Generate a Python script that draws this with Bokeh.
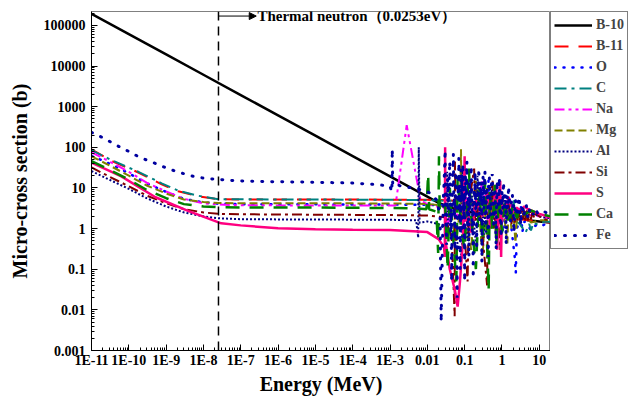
from bokeh.plotting import figure
from bokeh.layouts import row
from bokeh.models import FixedTicker, Legend, LegendItem, Span, Arrow, NormalHead, Label, Range1d
from bokeh.embed import file_html
from bokeh.resources import INLINE

# ---------------- data (energy in MeV, cross section in barn) ----------------
B10_PTS = [(1e-11, 193000), (1e-10, 61000), (1e-9, 19300), (1e-8, 6100), (1e-7, 1930), (1e-6, 610),
           (1e-5, 193), (1e-4, 61), (1e-3, 19.3), (0.01, 6.1), (0.02, 4.3), (0.05, 3.2), (0.1, 2.7),
           (0.2, 2.4), (0.3, 2.5), (0.5, 2.3), (1, 2.6), (2, 2.3), (3, 1.9), (5, 1.6), (10, 1.5), (20, 1.4)]

B11_PTS = [(1e-11, 89), (3.5e-11, 46), (1.8e-10, 24), (7.6e-10, 12.3), (2.1e-9, 8.3), (7.4e-9, 6.2),
           (2.5e-8, 5.3), (1e-7, 5.2), (1e-5, 5.2), (1e-3, 5.15), (0.01, 5.1), (0.03, 5.0), (0.1, 4.7),
           (0.2, 4.3), (0.35, 5.0), (0.43, 7.5), (0.5, 3.8), (1, 2.6), (2, 1.9), (3, 1.7), (5, 1.6),
           (10, 1.5), (20, 1.4)]

O_PTS = [(1e-11, 62), (3e-11, 40), (1e-10, 23), (3e-10, 13), (1e-9, 8), (3e-9, 5.4), (1e-8, 4.4),
         (2.5e-8, 4.1), (1e-7, 4.0), (1e-5, 3.95), (1e-3, 3.9), (0.01, 3.85), (0.1, 3.7), (0.3, 3.2),
         (0.4, 5), (0.434, 16), (0.45, 2), (0.6, 2.8), (0.9, 1.8), (1.0, 8), (1.05, 0.8), (1.3, 1.6),
         (1.65, 6), (1.8, 1.0), (2.2, 0.2), (2.35, 0.08), (2.5, 1.0), (3.0, 1.6), (3.2, 4.0), (3.5, 0.8),
         (4, 1.5), (5, 1.2), (6, 0.9), (8, 1.2), (10, 1.1), (15, 1.3), (20, 1.4)]

C_PTS = [(1e-11, 85), (3.5e-11, 48), (1.8e-10, 25), (7.6e-10, 13), (2.1e-9, 8.6), (7.4e-9, 6.4),
         (2.5e-8, 5.3), (1e-7, 5.25), (1e-5, 5.2), (1e-3, 5.1), (0.01, 5.0), (0.05, 4.8), (0.1, 4.6),
         (0.3, 3.9), (0.5, 3.5), (1, 2.6), (1.5, 2.1), (2, 1.7), (2.08, 5.0), (2.2, 1.6), (3, 1.3),
         (4.3, 0.8), (4.8, 1.0), (5.4, 1.3), (6, 0.9), (7, 1.4), (8, 1.3), (10, 1.3), (14, 1.5), (20, 1.45)]

NA_PTS = [(1e-11, 75), (3e-11, 45), (1e-10, 25), (3e-10, 13.5), (1e-9, 8.2), (3e-9, 5.4), (1e-8, 4.2),
          (2.5e-8, 3.9), (1e-7, 3.75), (1e-5, 3.7), (1e-4, 3.7), (1.4e-3, 3.7), (2.8e-3, 350),
          (6.6e-3, 4.9), (0.01, 4.0), (0.02, 3.4), (0.03, 3.2), (0.035, 0.8), (0.04, 3.0), (0.053, 3.5),
          (0.1, 0.6), (0.12, 8), (0.2, 2.5), (0.3, 15), (0.4, 1.5), (0.5, 6), (0.7, 0.7), (0.9, 7),
          (1.2, 1.5), (1.6, 4), (2, 2), (3, 3), (5, 2.2), (10, 2), (20, 1.8)]

MG_PTS = [(1e-11, 60), (3e-11, 36), (1e-10, 20), (3e-10, 11.5), (1e-9, 7.3), (3e-9, 5.2), (1e-8, 4.5),
          (2.5e-8, 4.25), (1e-7, 4.2), (1e-5, 4.2), (1e-3, 4.15), (0.01, 4.05), (0.02, 3.8), (0.04, 3.0),
          (0.06, 0.5), (0.075, 3), (0.08, 90), (0.082, 2), (0.1, 4), (0.15, 0.3), (0.2, 15), (0.25, 2),
          (0.3, 0.2), (0.4, 10), (0.5, 1.5), (0.6, 8), (0.8, 0.8), (1.0, 6), (1.4, 0.43), (1.5, 4),
          (1.8, 1), (2, 3), (2.3, 0.45), (2.6, 3), (3, 1.5), (4, 2.2), (6, 1.4), (10, 1.6), (20, 1.6)]

AL_PTS = [(1e-11, 26), (3e-11, 16), (1e-10, 9.5), (3e-10, 5.6), (1e-9, 3.5), (3e-9, 2.5), (1e-8, 2.0),
          (2.5e-8, 1.8), (1e-7, 1.7), (1e-5, 1.67), (1e-3, 1.65), (5e-3, 1.6), (5.7e-3, 0.6),
          (5.9e-3, 100), (6.2e-3, 1.4), (0.01, 1.5), (0.02, 1.3), (0.03, 1.0), (0.034, 25), (0.036, 0.8),
          (0.05, 0.9), (0.085, 0.2), (0.088, 30), (0.092, 2), (0.12, 0.5), (0.15, 12), (0.17, 2),
          (0.21, 0.3), (0.22, 20), (0.25, 3), (0.3, 8), (0.32, 0.6), (0.4, 10), (0.45, 2), (0.55, 12),
          (0.6, 1), (0.7, 6), (0.8, 2), (0.9, 7), (1.0, 1.5), (1.2, 5), (1.5, 2), (2, 4), (3, 2),
          (5, 2.8), (8, 2.2), (12, 1.9), (20, 1.8)]

SI_PTS = [(1e-11, 32), (3e-11, 19), (1e-10, 11), (3e-10, 6.5), (1e-9, 4.2), (3e-9, 3.0), (1e-8, 2.5),
          (2.5e-8, 2.3), (1e-7, 2.25), (1e-5, 2.2), (1e-3, 2.15), (0.01, 2.1), (0.03, 1.9), (0.045, 0.6),
          (0.054, 0.007), (0.055, 45), (0.057, 3), (0.07, 2.8), (0.09, 3.5), (0.12, 0.05), (0.13, 4),
          (0.18, 30), (0.19, 1.5), (0.25, 4), (0.4, 0.04), (0.42, 8), (0.5, 3), (0.56, 15), (0.6, 1),
          (0.8, 5), (0.9, 0.3), (1.0, 6), (1.2, 2), (1.5, 4), (1.8, 1.3), (2.0, 2.8), (2.2, 1.4),
          (2.4, 3.0), (2.6, 1.5), (2.8, 3.1), (3.0, 1.6), (3.3, 3.2), (3.6, 1.5), (3.9, 3.1), (4.2, 1.6),
          (4.6, 3.0), (5.0, 1.6), (5.5, 2.9), (6, 1.7), (6.6, 2.7), (7.3, 1.8), (8, 2.5), (10, 2.0),
          (14, 1.7), (20, 1.6)]

S_PTS = [(1e-11, 42), (6.3e-11, 19.3), (5.2e-10, 5.9), (4e-9, 2.7), (3e-8, 1.35), (1e-7, 1.2),
         (1e-6, 1.02), (1e-5, 0.97), (1e-4, 0.94), (1e-3, 0.92), (0.01, 0.82), (0.02, 0.55),
         (0.028, 0.35), (0.0295, 0.2), (0.030, 100), (0.0305, 0.5), (0.04, 0.1), (0.055, 0.03),
         (0.065, 0.012), (0.075, 0.05), (0.09, 0.5), (0.1, 60), (0.105, 1.5), (0.12, 3), (0.15, 0.8),
         (0.2, 5), (0.3, 2), (0.4, 8), (0.5, 1), (0.6, 4), (0.7, 12), (0.75, 0.3), (0.8, 3), (0.9, 15),
         (0.95, 0.2), (1.0, 4), (1.2, 2), (1.5, 6), (2, 2.5), (2.5, 3.3), (3, 2.8), (4, 3.5), (5, 3.0),
         (6, 2.8), (8, 2.5), (10, 2.3), (14, 2.1), (20, 1.9)]

CA_PTS = [(1e-11, 46), (3e-11, 28), (1e-10, 16), (3e-10, 9), (1e-9, 5.6), (3e-9, 4.0), (1e-8, 3.5),
          (2.5e-8, 3.35), (1e-7, 3.3), (1e-5, 3.3), (1e-3, 3.2), (5e-3, 3.15), (9.5e-3, 3.0),
          (0.0105, 22), (0.0112, 3.0), (0.0175, 2.6), (0.0195, 0.25), (0.0205, 60), (0.0215, 2.5),
          (0.03, 4), (0.035, 0.1), (0.04, 10), (0.045, 2), (0.06, 0.05), (0.065, 20), (0.08, 1),
          (0.1, 0.3), (0.13, 30), (0.15, 2), (0.2, 0.1), (0.25, 10), (0.3, 0.5), (0.35, 15), (0.44, 0.03),
          (0.47, 8), (0.55, 1), (0.65, 12), (0.7, 0.4), (0.85, 6), (1.0, 0.8), (1.2, 5), (1.5, 1.2),
          (2, 4), (2.5, 1.8), (3, 3.2), (4, 2.2), (6, 2.8), (10, 2.3), (20, 2.0)]

FE_PTS = [(1e-11, 234), (2.2e-11, 166), (4.7e-11, 112), (1.1e-10, 76), (2e-10, 56), (4.9e-10, 41),
          (1.1e-9, 30), (2.3e-9, 24), (4.6e-9, 20), (1e-8, 17.4), (2.5e-8, 16.2), (1e-7, 14.8),
          (1e-6, 14.2), (1e-5, 13.8), (1e-4, 13.2), (5e-4, 12.0), (1e-3, 11.0), (1.12e-3, 8),
          (1.15e-3, 90), (1.18e-3, 12), (1.3e-3, 13), (2e-3, 11), (4e-3, 10), (7e-3, 9), (0.012, 7.5),
          (0.018, 5), (0.022, 2), (0.0235, 0.005), (0.026, 1.2), (0.027, 6), (0.028, 12), (0.029, 30),
          (0.030, 85), (0.0305, 8), (0.031, 2.5), (0.032, 0.6), (0.033, 0.4), (0.034, 5), (0.035, 18),
          (0.036, 7), (0.037, 3), (0.038, 12), (0.040, 45), (0.041, 6), (0.042, 0.8), (0.043, 3),
          (0.045, 0.05), (0.046, 2), (0.047, 8), (0.048, 20), (0.050, 70), (0.051, 9), (0.052, 2),
          (0.053, 6), (0.055, 0.3), (0.056, 4), (0.058, 25), (0.059, 10), (0.060, 4), (0.061, 1),
          (0.063, 0.02), (0.064, 3), (0.066, 12), (0.068, 5), (0.070, 55), (0.071, 15), (0.073, 1.5),
          (0.074, 6), (0.076, 0.1), (0.078, 4), (0.080, 30), (0.082, 9), (0.083, 5), (0.085, 15),
          (0.087, 0.6), (0.088, 4), (0.090, 40), (0.092, 10), (0.095, 2), (0.097, 7), (0.100, 0.05),
          (0.102, 3), (0.105, 20), (0.107, 8), (0.11, 6), (0.112, 18), (0.115, 45), (0.117, 5), (0.12, 1),
          (0.125, 6), (0.13, 0.2), (0.132, 4), (0.135, 15), (0.137, 7), (0.14, 3), (0.145, 12), (0.15, 35),
          (0.155, 5), (0.16, 0.8), (0.165, 4), (0.17, 0.06), (0.175, 3), (0.18, 10), (0.185, 4),
          (0.19, 25), (0.195, 6), (0.2, 2), (0.205, 9), (0.21, 0.3), (0.215, 5), (0.22, 12), (0.23, 4),
          (0.24, 30), (0.245, 7), (0.25, 1.5), (0.26, 10), (0.27, 5), (0.28, 14), (0.29, 0.15), (0.3, 6),
          (0.31, 20), (0.32, 8), (0.33, 3), (0.34, 12), (0.35, 25), (0.36, 5), (0.37, 0.8), (0.385, 9),
          (0.4, 8), (0.415, 3), (0.43, 0.2), (0.445, 6), (0.46, 18), (0.48, 7), (0.5, 2), (0.52, 11),
          (0.55, 22), (0.57, 6), (0.6, 1), (0.62, 7), (0.65, 10), (0.67, 3), (0.7, 0.3), (0.72, 5),
          (0.75, 15), (0.77, 6), (0.8, 3), (0.83, 10), (0.85, 18), (0.87, 4), (0.9, 1.5), (0.92, 6),
          (0.95, 0.6), (0.97, 4), (1.0, 8), (1.05, 3), (1.1, 14), (1.15, 5), (1.2, 2), (1.25, 7),
          (1.3, 0.4), (1.35, 3), (1.4, 6), (1.45, 3), (1.5, 11), (1.6, 4), (1.7, 1.5), (1.8, 5), (1.9, 7),
          (2.0, 2.5), (2.1, 0.8), (2.2, 3), (2.3, 5), (2.45, 2.2), (2.6, 2), (2.75, 4.5), (2.9, 6),
          (3.05, 2.5), (3.2, 1.2), (3.4, 3), (3.6, 4), (3.8, 2), (4.0, 2.5), (4.25, 3.6), (4.5, 3.8),
          (4.75, 2.2), (5, 1.8), (5.5, 3.0), (6, 3.2), (6.5, 2.4), (7, 2.2), (7.5, 2.9), (8, 3.0),
          (9, 2.4), (10, 2.6), (12, 2.8), (15, 2.5), (20, 2.4)]

SERIES_NAMES = ["B-10", "B-11", "O", "C", "Na", "Mg", "Al", "Si", "S", "Ca", "Fe"]
SERIES_PTS = [B10_PTS, B11_PTS, O_PTS, C_PTS, NA_PTS, MG_PTS, AL_PTS, SI_PTS, S_PTS, CA_PTS, FE_PTS]

X_TICKS = [1e-11, 1e-10, 1e-9, 1e-8, 1e-7, 1e-6, 1e-5, 1e-4, 1e-3, 0.01, 0.1, 1, 10]
X_LABELS = ["1E-11", "1E-10", "1E-9", "1E-8", "1E-7", "1E-6", "1E-5", "1E-4", "1E-3", "0.01", "0.1", "1", "10"]
Y_TICKS = [0.001, 0.01, 0.1, 1, 10, 100, 1000, 10000, 100000]
Y_LABELS = ["0.001", "0.01", "0.1", "1", "10", "100", "1000", "10000", "100000"]

THERMAL_E = 2.53e-8
ANNOT_TEXT = "Thermal neutron\uff080.0253eV\uff09"

# ---------------- styles ----------------
STYLES = {
    "B-10": dict(color="#000000", dash="solid", width=2.5, cap="butt"),
    "B-11": dict(color="#FF0000", dash="14 10", width=2, cap="butt"),
    "O": dict(color="#0000FF", dash="1 8", width=2.5, cap="round"),
    "C": dict(color="#008080", dash="12 5 3 5", width=2, cap="butt"),
    "Na": dict(color="#FF00FF", dash="10 4 3 4 3 4", width=2, cap="butt"),
    "Mg": dict(color="#808000", dash="8 4", width=2, cap="butt"),
    "Al": dict(color="#000080", dash="2 2", width=2, cap="butt"),
    "Si": dict(color="#800000", dash="10 4 3 4", width=2, cap="butt"),
    "S": dict(color="#FF0080", dash="solid", width=2.5, cap="butt"),
    "Ca": dict(color="#008000", dash="14 10", width=2.5, cap="butt"),
    "Fe": dict(color="#0000A0", dash="1 9", width=3, cap="round"),
}
FONT = "Liberation Serif"
FRAME_W, FRAME_H = 459, 339

p = figure(frame_width=FRAME_W, frame_height=FRAME_H, x_axis_type="log", y_axis_type="log",
           x_range=(1e-11, 20), y_range=(1e-3, 2.2e5),
           output_backend="svg", toolbar_location=None,
           min_border_left=91, min_border_right=0, min_border_top=11, min_border_bottom=51)

p.xgrid.visible = False
p.ygrid.visible = False
p.outline_line_color = "#808080"
p.background_fill_color = "white"

# side figure that only carries the legend
lf = figure(width=83, height=401, output_backend="svg", toolbar_location=None,
            x_range=Range1d(0, 1), y_range=Range1d(0, 1),
            x_axis_location=None, y_axis_location=None,
            min_border_left=0, min_border_right=0, min_border_top=11, min_border_bottom=0)
lf.xgrid.visible = False
lf.ygrid.visible = False
lf.outline_line_color = None

items = []
for name, pts in zip(SERIES_NAMES, SERIES_PTS):
    st = STYLES[name]
    xs = [a for a, b in pts]
    ys = [b for a, b in pts]
    kw = dict(line_color=st["color"], line_dash=st["dash"], line_width=st["width"], line_cap=st["cap"])
    p.line(xs, ys, **kw)
    proxy = lf.line(xs, ys, visible=False, **kw)   # hidden twin, used only for the legend sample
    items.append(LegendItem(label=name, renderers=[proxy]))

# thermal neutron marker
p.add_layout(Span(location=THERMAL_E, dimension="height", line_color="black",
                  line_dash="9 6", line_width=1.5))
p.add_layout(Arrow(end=NormalHead(size=7, fill_color="black", line_color="black"),
                   x_start=THERMAL_E, y_start=1.7e5, x_end=2.6e-7, y_end=1.7e5,
                   line_color="black", line_width=1))
p.add_layout(Label(x=2.8e-7, y=1.7e5, text=ANNOT_TEXT, text_baseline="middle",
                   text_font=FONT, text_font_style="bold", text_font_size="15px", text_color="black"))

# axes
def minor(ticks):
    out = []
    for t in ticks:
        out += [t * k for k in range(2, 10)]
    return out

for ax, ticks, labels in ((p.xaxis[0], X_TICKS, X_LABELS), (p.yaxis[0], Y_TICKS, Y_LABELS)):
    ax.ticker = FixedTicker(ticks=ticks, minor_ticks=minor(ticks + [ticks[0] / 10]))
    ax.major_label_overrides = {t: l for t, l in zip(ticks, labels)}
    ax.major_label_text_font = FONT
    ax.major_label_text_font_style = "bold"
    ax.major_label_text_font_size = "14px"
    ax.major_label_text_color = "black"
    ax.axis_label_text_font = FONT
    ax.axis_label_text_font_style = "bold"
    ax.axis_label_text_font_size = "20px"
    ax.axis_label_text_color = "black"
    ax.axis_line_color = "black"
    ax.major_tick_line_color = "black"
    ax.minor_tick_line_color = "black"
    ax.major_tick_in = 6
    ax.major_tick_out = 0
    ax.minor_tick_in = 3
    ax.minor_tick_out = 0

p.xaxis.axis_label = "Energy (MeV)"
p.yaxis.axis_label = "Micro-cross section (b)"
p.xaxis.major_label_standoff = 2
p.xaxis.axis_label_standoff = 2
p.yaxis.major_label_standoff = 6
p.yaxis.axis_label_standoff = 10

legend = Legend(items=items, location="top_left", margin=0, padding=3, spacing=1,
                glyph_width=38, glyph_height=20, label_height=20, label_standoff=4,
                label_text_font=FONT, label_text_font_style="bold", label_text_font_size="14px",
                border_line_color="black", border_line_width=1, background_fill_color="white",
                background_fill_alpha=1, inactive_fill_alpha=0)
lf.add_layout(legend, "center")

layout = row(p, lf, spacing=0)
open("out.html", "w").write(file_html(layout, INLINE))
